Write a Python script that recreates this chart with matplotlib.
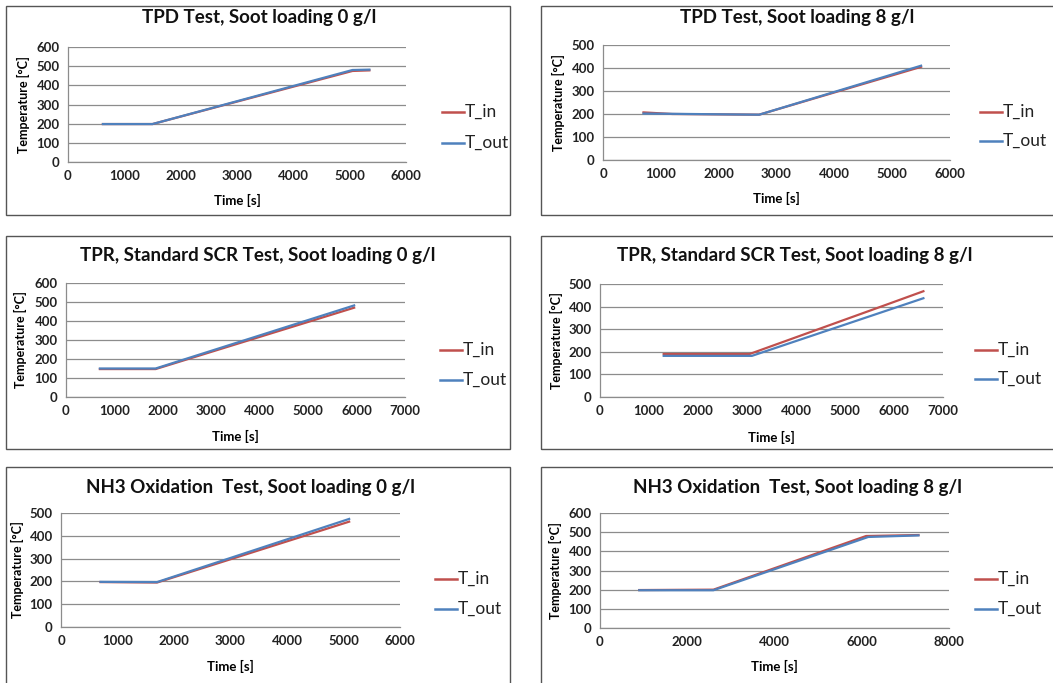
import matplotlib
matplotlib.use("Agg")
import matplotlib.pyplot as plt
from matplotlib.patches import Rectangle

W, H = 1053, 683
plt.rcParams['font.family'] = ['Lato', 'DejaVu Sans']

titles = [
    "TPD Test, Soot loading 0 g/l",
    "TPD Test, Soot loading 8 g/l",
    "TPR, Standard SCR Test, Soot loading 0 g/l",
    "TPR, Standard SCR Test, Soot loading 8 g/l",
    "NH3 Oxidation  Test, Soot loading 0 g/l",
    "NH3 Oxidation  Test, Soot loading 8 g/l",
]

# Panel data: (time, T_in), (time, T_out)
p1_t_in = [620, 1500, 5050, 5350]
p1_T_in = [198, 198, 475, 478]
p1_t_out = [620, 1500, 5050, 5350]
p1_T_out = [198, 198, 480, 482]

p2_t_in = [700, 1200, 2700, 5500]
p2_T_in = [207, 200, 197, 405]
p2_t_out = [700, 2700, 5500]
p2_T_out = [202, 197, 410]

p3_t_in = [700, 1850, 5950]
p3_T_in = [147, 147, 470]
p3_t_out = [700, 1850, 5950]
p3_T_out = [150, 150, 482]

p4_t_in = [1300, 3050, 5800, 6600]
p4_T_in = [190, 190, 405, 468]
p4_t_out = [1300, 3100, 6600]
p4_T_out = [182, 182, 437]

p5_t_in = [700, 1700, 5100]
p5_T_in = [197, 195, 462]
p5_t_out = [700, 1700, 5100]
p5_T_out = [198, 197, 474]

p6_t_in = [900, 2600, 6100, 7300]
p6_T_in = [198, 200, 480, 485]
p6_t_out = [900, 2600, 6150, 7300]
p6_T_out = [197, 197, 475, 483]

series = [
    (p1_t_in, p1_T_in, p1_t_out, p1_T_out),
    (p2_t_in, p2_T_in, p2_t_out, p2_T_out),
    (p3_t_in, p3_T_in, p3_t_out, p3_T_out),
    (p4_t_in, p4_T_in, p4_t_out, p4_T_out),
    (p5_t_in, p5_T_in, p5_t_out, p5_T_out),
    (p6_t_in, p6_T_in, p6_t_out, p6_T_out),
]

x_ticks = [
    [0, 1000, 2000, 3000, 4000, 5000, 6000],
    [0, 1000, 2000, 3000, 4000, 5000, 6000],
    [0, 1000, 2000, 3000, 4000, 5000, 6000, 7000],
    [0, 1000, 2000, 3000, 4000, 5000, 6000, 7000],
    [0, 1000, 2000, 3000, 4000, 5000, 6000],
    [0, 2000, 4000, 6000, 8000],
]
y_ticks = [
    [0, 100, 200, 300, 400, 500, 600],
    [0, 100, 200, 300, 400, 500],
    [0, 100, 200, 300, 400, 500, 600],
    [0, 100, 200, 300, 400, 500],
    [0, 100, 200, 300, 400, 500],
    [0, 100, 200, 300, 400, 500, 600],
]

# layout in pixels: box (x0,y0,x1,y1), plot area (x0,y0,x1,y1), title y, legend (x, y_in, y_out)
boxes = [(6, 6, 510, 215), (541, 6, 1060, 215),
         (6, 236, 510, 449), (541, 236, 1060, 449),
         (6, 467, 510, 690), (541, 467, 1060, 690)]
plots = [(68, 47, 406, 162), (603, 45, 950, 160),
         (66, 283, 405, 397), (600, 284, 943, 397),
         (61, 513, 400, 627), (600, 513, 949, 628)]
title_pos = [(259, 18), (797, 18), (258, 256), (795, 256), (250, 487), (797, 487)]
ylab_x = [23, 558, 20, 556, 17, 555]
xlab_y = [200, 198, 436, 437, 666, 666]
legend_pos = [(442, 112, 143), (980, 112, 141), (440, 350, 380), (975, 350, 379), (435, 579, 609), (975, 579, 609)]

RED = "#C0504D"
BLUE = "#4F81BD"
GRID = "#8C8C8C"

fig = plt.figure(figsize=(W / 100, H / 100), dpi=100)
fig.patch.set_facecolor("white")

for i in range(6):
    bx0, by0, bx1, by1 = boxes[i]
    fig.patches.append(Rectangle((bx0 / W, 1 - by1 / H), (bx1 - bx0) / W, (by1 - by0) / H,
                                 transform=fig.transFigure, fill=False,
                                 edgecolor="#555555", linewidth=1.0, zorder=0))
    px0, py0, px1, py1 = plots[i]
    ax = fig.add_axes([px0 / W, 1 - py1 / H, (px1 - px0) / W, (py1 - py0) / H])
    t_in, T_in, t_out, T_out = series[i]
    ax.plot(t_in, T_in, color=RED, lw=1.6, label="T_in", zorder=3)
    ax.plot(t_out, T_out, color=BLUE, lw=1.6, label="T_out", zorder=4)
    ax.set_xlim(x_ticks[i][0], x_ticks[i][-1])
    ax.set_ylim(y_ticks[i][0], y_ticks[i][-1])
    ax.set_xticks(x_ticks[i])
    ax.set_yticks(y_ticks[i])
    ax.tick_params(length=0, labelsize=9.5, pad=6, colors="#222222")
    for lab in ax.get_xticklabels() + ax.get_yticklabels():
        lab.set_fontweight("bold")
    ax.grid(axis="y", color=GRID, linewidth=0.9)
    ax.set_axisbelow(True)
    for s in ["top", "right"]:
        ax.spines[s].set_visible(False)
    for s in ["left", "bottom"]:
        ax.spines[s].set_color(GRID)
        ax.spines[s].set_linewidth(0.9)

    tx, ty = title_pos[i]
    fig.text(tx / W, 1 - ty / H, titles[i], ha="center", va="center",
             fontsize=13.5, fontweight="bold", color="#111111")
    fig.text(ylab_x[i] / W, 1 - ((py0 + py1) / 2) / H, "Temperature [°C]", rotation=90,
             ha="center", va="center", fontsize=9, fontweight="bold")
    fig.text(((px0 + px1) / 2) / W, 1 - xlab_y[i] / H, "Time [s]", ha="center", va="center",
             fontsize=9.5, fontweight="bold")

    lx, ly_in, ly_out = legend_pos[i]
    seglen = 22
    for (yy, col, lab) in [(ly_in, RED, "T_in"), (ly_out, BLUE, "T_out")]:
        fig.lines.append(plt.Line2D([lx / W, (lx + seglen) / W], [1 - yy / H, 1 - yy / H],
                                    transform=fig.transFigure, color=col, lw=1.8))
        fig.text((lx + seglen + 1) / W, 1 - yy / H, lab, ha="left", va="center",
                 fontsize=12.5, color="#222222")

fig.savefig("out.png", dpi=100, facecolor="white")
